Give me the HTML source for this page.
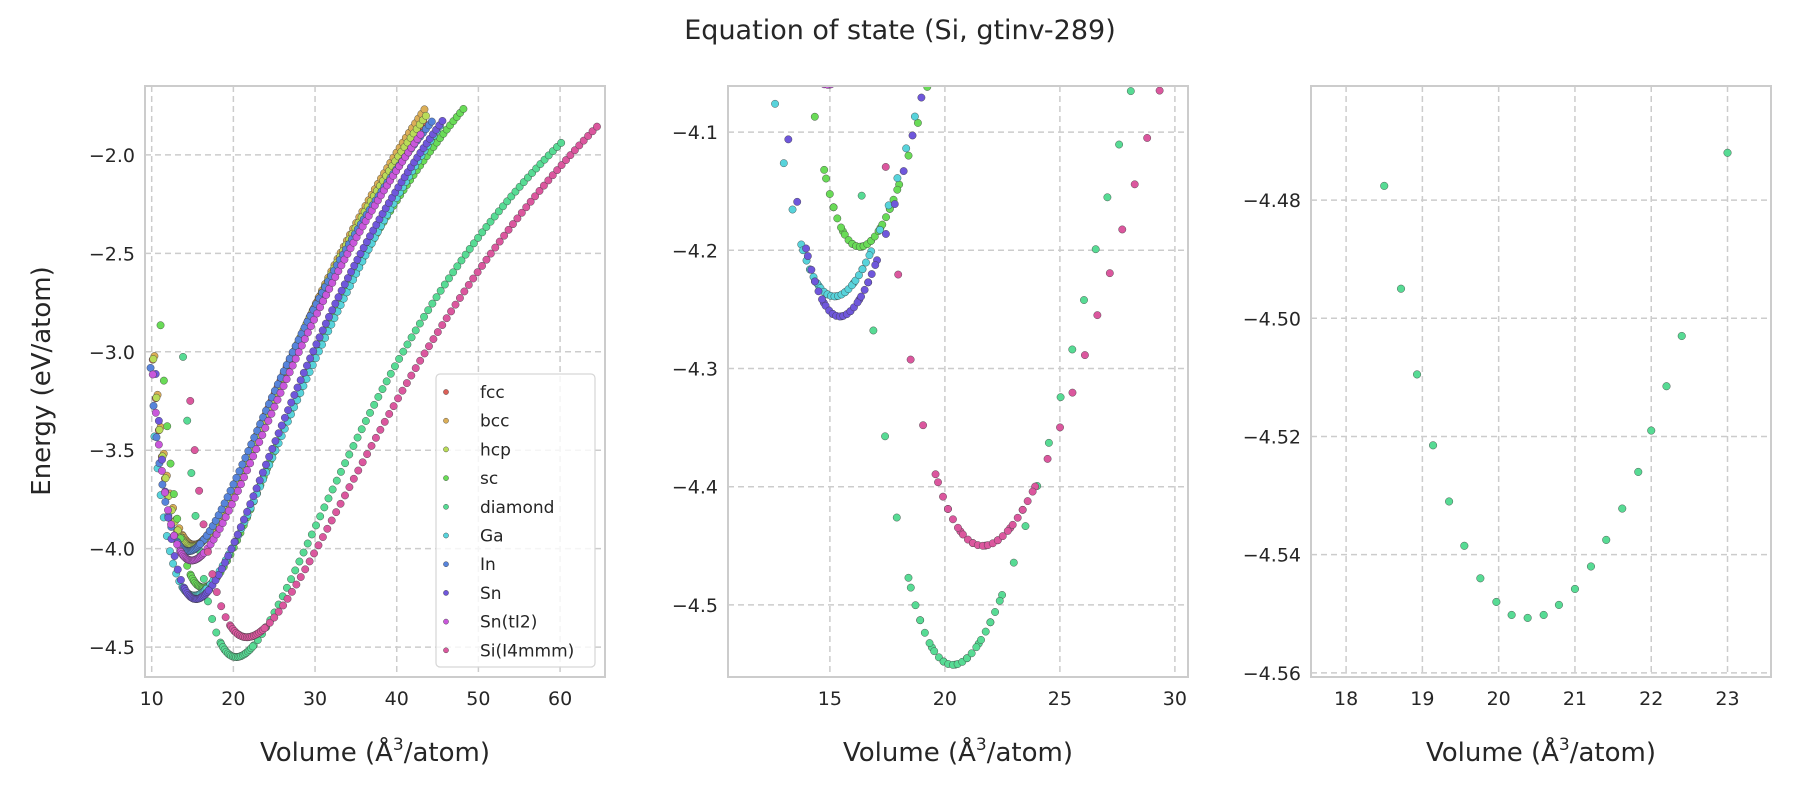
<!DOCTYPE html>
<html><head><meta charset="utf-8"><style>
html,body{margin:0;padding:0;background:#fff;}
svg{display:block;font-family:"DejaVu Sans","Liberation Sans",sans-serif;}
</style></head><body>
<svg id="s" width="1800" height="800" viewBox="0 0 1800 800" xmlns="http://www.w3.org/2000/svg">
<text x="900" y="39" text-anchor="middle" font-size="27" fill="#262626">Equation of state (Si, gtinv-289)</text>
<text x="375" y="761" text-anchor="middle" font-size="26" fill="#262626">Volume (Å<tspan font-size="17" dy="-11">3</tspan><tspan dy="11">/atom)</tspan></text>
<text x="958" y="761" text-anchor="middle" font-size="26" fill="#262626">Volume (Å<tspan font-size="17" dy="-11">3</tspan><tspan dy="11">/atom)</tspan></text>
<text x="1541" y="761" text-anchor="middle" font-size="26" fill="#262626">Volume (Å<tspan font-size="17" dy="-11">3</tspan><tspan dy="11">/atom)</tspan></text>
<text transform="translate(50,381) rotate(-90)" text-anchor="middle" font-size="26" fill="#262626">Energy (eV/atom)</text>
</svg>
<script>
var NS="http://www.w3.org/2000/svg",S=document.getElementById("s");
function el(t,a,p){var e=document.createElementNS(NS,t);for(var k in a)e.setAttribute(k,a[k]);(p||S).appendChild(e);return e;}
var cols={fcc:"#db5f57",bcc:"#dbae57",hcp:"#b9db57",sc:"#69db57",diamond:"#57db94",Ga:"#57d3db",In:"#5784db",Sn:"#6f57db","Sn(tI2)":"#c957db","Si(I4mmm)":"#db579e"};
var ser=[["fcc",-3.99,14.9,0.6,43.5,-1.82],["bcc",-3.98,15.2,0.6,43.7,-1.75],["hcp",-3.99,15.0,0.6,43.6,-1.80],
["sc",-4.197,16.3,0.72,48.5,-1.75],["diamond",-4.5507,20.35,0.65,60.6,-1.92],["Ga",-4.239,15.2,0.54,45.5,-1.84],
["In",-4.013,14.5,0.6,44.5,-1.82],["Sn",-4.256,15.43,0.68,45.9,-1.81],["Sn(tI2)",-4.06,14.9,0.6,43.2,-1.88],["Si(I4mmm)",-4.45,21.65,0.51,64.9,-1.84]];
function mk(s){var E0=s[1],V0=s[2],B=s[3],c=9*V0*B/16;var x=Math.pow(V0/s[4],2/3),R=s[5]-E0;
var Bp=(R/c-(x-1)*(x-1)*(6-4*x))/Math.pow(x-1,3);
return function(V){var x=Math.pow(V0/V,2/3);return E0+c*(Math.pow(x-1,3)*Bp+(x-1)*(x-1)*(6-4*x));};}
var data=ser.map(function(s){var f=mk(s),V0=s[2],pts=[];
for(var V=0.68*V0;V<=s[4]+1e-6;V+=0.025*V0)pts.push([V,f(V)]);
for(var i=-9;i<=10;i++){var V=V0*(1+0.01*i);pts.push([V,f(V)]);}
return {n:s[0],p:pts};});
var panels=[
{x0:145,x1:605,y0:86,y1:677,vx0:9.18,vx1:65.5,ey0:-1.65,ey1:-4.652,xt:[10,20,30,40,50,60],yt:[-2.0,-2.5,-3.0,-3.5,-4.0,-4.5],yd:1,main:1},
{x0:728,x1:1188,y0:86,y1:677,vx0:10.57,vx1:30.57,ey0:-4.061,ey1:-4.561,xt:[15,20,25,30],yt:[-4.1,-4.2,-4.3,-4.4,-4.5],yd:1},
{x0:1311,x1:1771,y0:86,y1:677,vx0:17.54,vx1:23.57,ey0:-4.4607,ey1:-4.5607,xt:[18,19,20,21,22,23],yt:[-4.48,-4.50,-4.52,-4.54,-4.56],yd:2,p3:1}];
var p3=[[18.5,-4.4776],[18.72,-4.495],[18.93,-4.5095],[19.14,-4.5215],[19.35,-4.531],[19.55,-4.5385],[19.76,-4.544],[19.97,-4.548],[20.17,-4.5502],[20.38,-4.5507],[20.59,-4.5502],[20.79,-4.5485],[21.0,-4.5458],[21.21,-4.542],[21.41,-4.5375],[21.62,-4.5322],[21.83,-4.526],[22.0,-4.519],[22.2,-4.5115],[22.4,-4.503],[23.0,-4.472]];
panels.forEach(function(P,pi){
 var X=function(v){return P.x0+(v-P.vx0)/(P.vx1-P.vx0)*(P.x1-P.x0);},Y=function(e){return P.y0+(e-P.ey0)/(P.ey1-P.ey0)*(P.y1-P.y0);};
 var cp=el("clipPath",{id:"c"+pi});el("rect",{x:P.x0,y:P.y0,width:P.x1-P.x0,height:P.y1-P.y0},cp);
 var g=el("g",{stroke:"#cccccc","stroke-width":1.5,"stroke-dasharray":"6,4"});
 P.xt.forEach(function(v){var x=X(v);el("line",{x1:x,x2:x,y1:P.y0,y2:P.y1},g);
  el("text",{x:x,y:P.y1+28,"text-anchor":"middle","font-size":19,fill:"#262626"}).textContent=String(v);});
 P.yt.forEach(function(e){var y=Y(e);el("line",{x1:P.x0,x2:P.x1,y1:y,y2:y},g);
  el("text",{x:P.x0-10,y:y+7,"text-anchor":"end","font-size":19,fill:"#262626"}).textContent="\u2212"+Math.abs(e).toFixed(P.yd);});
 var gp=el("g",{"clip-path":"url(#c"+pi+")",stroke:"#3a3a3a","stroke-width":0.5,"stroke-opacity":0.8});
 if(P.p3){p3.forEach(function(q){el("circle",{cx:X(q[0]),cy:Y(q[1]),r:3.8,fill:cols.diamond},gp);});}
 else data.forEach(function(d){d.p.forEach(function(q){var x=X(q[0]),y=Y(q[1]);if(x<P.x0-5||x>P.x1+5||y<P.y0-5||y>P.y1+5)return;el("circle",{cx:x,cy:y,r:3.7,fill:cols[d.n]},gp);});});
 el("rect",{x:P.x0,y:P.y0,width:P.x1-P.x0,height:P.y1-P.y0,fill:"none",stroke:"#cccccc","stroke-width":2});
 if(P.main){
  el("rect",{x:436,y:374,width:159,height:293,rx:4,fill:"#fff","fill-opacity":0.8,stroke:"#d6d6d6","stroke-width":1.2});
  var names=Object.keys(cols);names.forEach(function(n,i){var y=392+i*28.7;
   el("circle",{cx:446,cy:y,r:2.6,fill:cols[n],stroke:"#3a3a3a","stroke-width":0.4});
   el("text",{x:480,y:y+6,"font-size":17,fill:"#262626"}).textContent=n;});
 }
});
</script>
</body></html>
